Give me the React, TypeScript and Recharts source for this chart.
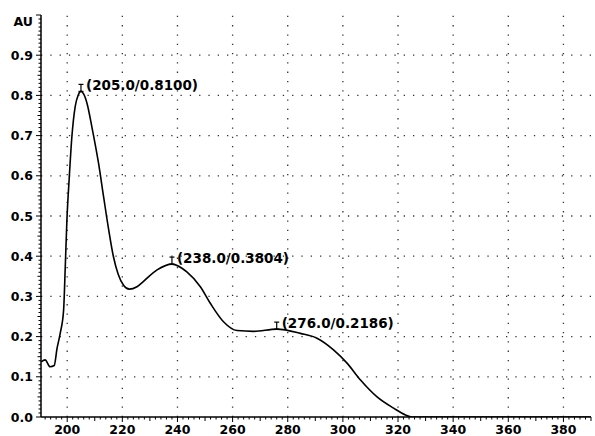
import React from "react";
import { ComposedChart, Line, XAxis, YAxis, ReferenceLine, Scatter } from "recharts";

const wavelength = [190.5, 192, 193.8, 195.3, 196.3, 197.5, 198.7, 199.3, 199.9, 200.7, 201.7, 202.9, 204, 205, 206, 207.2, 209, 211.4, 213.2, 215, 216.8, 218.5, 220.5, 222.5, 225.3, 227.6, 232.6, 238, 243.4, 248.3, 251.9, 256.7, 261.6, 267.6, 276, 284.6, 290.6, 296.6, 301.5, 306.4, 312.4, 318.4, 322.7, 325, 390];
const absorbance = [0.137, 0.142, 0.125, 0.128, 0.17, 0.209, 0.266, 0.373, 0.49, 0.59, 0.697, 0.772, 0.801, 0.81, 0.803, 0.78, 0.72, 0.63, 0.548, 0.468, 0.398, 0.355, 0.327, 0.318, 0.324, 0.337, 0.366, 0.3804, 0.361, 0.324, 0.283, 0.237, 0.215, 0.213, 0.2186, 0.208, 0.196, 0.167, 0.134, 0.092, 0.05, 0.022, 0.005, 0, 0];

const peakX = [205.0, 238.0, 276.0];
const peakY = [0.81, 0.3804, 0.2186];
const peakLabels = ["(205.0/0.8100)", "(238.0/0.3804)", "(276.0/0.2186)"];

const xMajorTicks = [200, 220, 240, 260, 280, 300, 320, 340, 360, 380];
const yMajorTicks = [0.0, 0.1, 0.2, 0.3, 0.4, 0.5, 0.6, 0.7, 0.8, 0.9];
const yTickLabels = ["0.0", "0.1", "0.2", "0.3", "0.4", "0.5", "0.6", "0.7", "0.8", "0.9"];
const yAxisTitle = "AU";

const xMinorTicks = Array.from({ length: 100 }, (_, i) => 192 + i * 2);
const yMinorTicks = Array.from({ length: 101 }, (_, i) => i / 100);

const data = wavelength.map((w, i) => ({ w, a: absorbance[i] }));
const peaks = peakX.map((w, i) => ({ w, a: peakY[i], label: peakLabels[i] }));

const FONT = "'DejaVu Sans', sans-serif";

const XTick = (props: any) => {
  const { x, y, payload } = props;
  const v = Math.round(payload.value);
  const major = v % 20 === 0;
  const mid = v % 10 === 0;
  const len = major ? 5 : mid ? 4 : 2.5;
  return (
    <g>
      <line x1={x} y1={y} x2={x} y2={y + len} stroke="#000" strokeWidth={1} />
      {major && (
        <text x={x} y={y + 12} textAnchor="middle" dominantBaseline="central" fontFamily={FONT} fontWeight="bold" fontSize={12.5} fill="#000">
          {String(v)}
        </text>
      )}
    </g>
  );
};

const YTick = (props: any) => {
  const { x, y, payload } = props;
  const h = Math.round(payload.value * 100);
  const major = h % 10 === 0;
  const mid = h % 5 === 0;
  const len = major ? 5 : mid ? 3.5 : 2.5;
  const idx = yMajorTicks.findIndex((t) => Math.round(t * 100) === h);
  return (
    <g>
      <line x1={x} y1={y} x2={x - len} y2={y} stroke="#000" strokeWidth={1} />
      {idx >= 0 && (
        <text x={x - 8} y={y} textAnchor="end" dominantBaseline="central" fontFamily={FONT} fontWeight="bold" fontSize={12.5} fill="#000">
          {yTickLabels[idx]}
        </text>
      )}
      {h === 100 && (
        <text x={x - 8} y={y + 6} textAnchor="end" dominantBaseline="central" fontFamily={FONT} fontWeight="bold" fontSize={12.5} fill="#000">
          {yAxisTitle}
        </text>
      )}
    </g>
  );
};

const PeakShape = (props: any) => {
  const { cx, cy, payload } = props;
  return (
    <g>
      <line x1={cx} y1={cy - 7} x2={cx} y2={cy} stroke="#000" strokeWidth={1.2} />
      <line x1={cx - 2.5} y1={cy - 7} x2={cx + 2.5} y2={cy - 7} stroke="#000" strokeWidth={1.2} />
      <line x1={cx - 2.5} y1={cy} x2={cx + 2.5} y2={cy} stroke="#000" strokeWidth={1.2} />
      <text x={cx + 5} y={cy - 6} dominantBaseline="central" fontFamily={FONT} fontWeight="bold" fontSize={13.5} fill="#000">
        {payload.label}
      </text>
    </g>
  );
};

export default function App() {
  return (
    <div style={{ position: "absolute", left: 0, top: 0, background: "#fff" }}>
      <ComposedChart width={595} height={436} data={data} margin={{ top: 15, right: 4, bottom: 0, left: 0 }}>
        <XAxis
          dataKey="w"
          type="number"
          domain={[190.5, 390]}
          ticks={xMinorTicks}
          interval={0}
          tick={<XTick />}
          tickLine={false}
          tickSize={0}
          tickMargin={0}
          height={19}
          axisLine={{ stroke: "#000", strokeWidth: 1.5 }}
          allowDataOverflow
        />
        <YAxis
          type="number"
          domain={[0, 1]}
          ticks={yMinorTicks}
          interval={0}
          tick={<YTick />}
          tickLine={false}
          tickSize={0}
          tickMargin={0}
          width={41}
          axisLine={{ stroke: "#000", strokeWidth: 1.5 }}
          allowDataOverflow
        />
        {xMajorTicks.map((v) => (
          <ReferenceLine key={"x" + v} x={v} stroke="#333" strokeWidth={1.3} strokeDasharray="1.3 8" />
        ))}
        {yMajorTicks.slice(1).map((v) => (
          <ReferenceLine key={"y" + v} y={v} stroke="#333" strokeWidth={1.3} strokeDasharray="1.3 8" />
        ))}
        <Line dataKey="a" type="monotone" stroke="#000" strokeWidth={1.6} dot={false} isAnimationActive={false} />
        <Scatter data={peaks} dataKey="a" shape={<PeakShape />} isAnimationActive={false} />
      </ComposedChart>
    </div>
  );
}
